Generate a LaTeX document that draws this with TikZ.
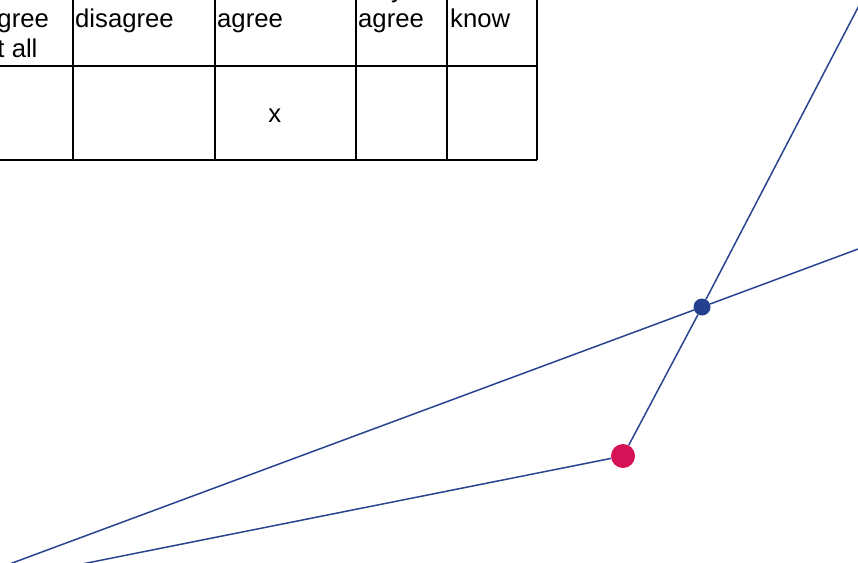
\documentclass[tikz,border=0pt]{standalone}
\usepackage{fontspec}
\setmainfont{Liberation Sans}
\usepackage{xcolor}
\definecolor{rayblue}{RGB}{42,68,143}
\definecolor{jointblue}{RGB}{36,64,142}
\definecolor{pivotred}{RGB}{214,18,86}

\tikzset{
  gridline/.style={line width=1.6pt, black},
  celltext/.style={anchor=base west, inner sep=0pt, font=\fontsize{25.7}{29.6}\selectfont},
  ray/.style={line width=1.5pt, rayblue},
  joint/.style={circle, fill=#1, inner sep=0pt}
}

\begin{document}
\begin{tikzpicture}[x=1pt, y=-1pt]
    \useasboundingbox (0,0) rectangle (858,562);
    \clip (0,0) rectangle (858,562);

    % Table grid
    \draw[gridline] (-19,66) -- (537,66);
    \draw[gridline] (-19,160) -- (537,160);
    \foreach \xc in {-19,73,215,356,447,537}
        \draw[gridline] (\xc,-80) -- (\xc,160);

    % Header cells
    \node[celltext] (colA) at (-17,27.5) {agree};
    \node[celltext] (colAb) at (-17,57.5) {at all};
    \node[celltext] (colB) at (75,27.5) {disagree};
    \node[celltext] (colC) at (217,27.5) {agree};
    \node[celltext] (colDa) at (358,-2.5) {fully};
    \node[celltext] (colD) at (358,27.5) {agree};
    \node[celltext] (colE) at (450,27.5) {know};

    % Answer
    \node[celltext, anchor=base] (answer) at (274.7,122) {x};

    % Points
    \node[joint=jointblue, minimum size=17pt] (cross) at (702,307) {};
    \node[joint=pivotred, minimum size=24pt] (pivot) at (623,456) {};

    % Ray ends
    \coordinate (lowleft) at (5,565.7);
    \coordinate (lowmid) at (80,564.4);
    \coordinate (rightend) at (870,244.6);
    \coordinate (topend) at (864.5,-5);

    % Rays
    \draw[ray] (lowleft) -- (cross) -- (rightend);
    \draw[ray] (lowmid) -- (pivot);
    \draw[ray] (pivot) -- (cross) -- (topend);
\end{tikzpicture}
\end{document}
